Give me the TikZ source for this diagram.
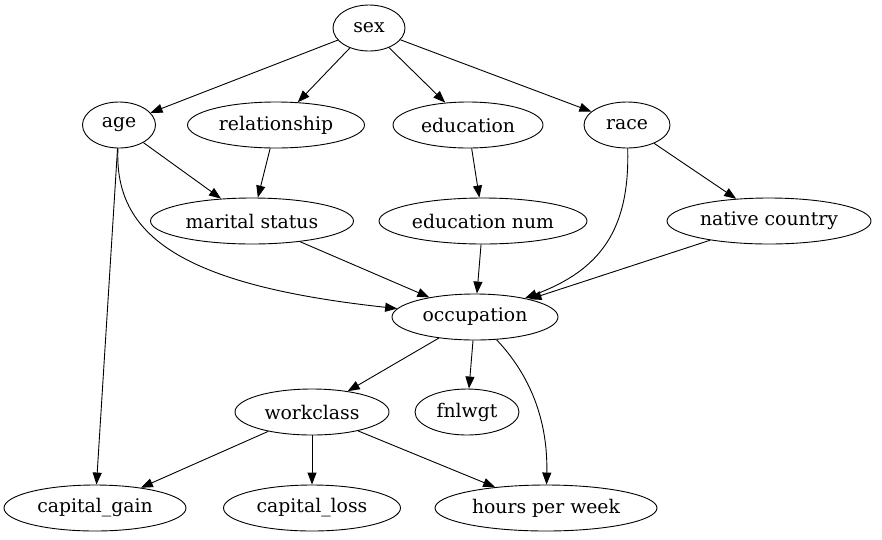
\documentclass[tikz,border=0pt]{standalone}
\usepackage{fontspec}
\setmainfont{DejaVu Serif}
\usetikzlibrary{shapes.geometric}
\usetikzlibrary{arrows.meta}
\pgfdeclarelayer{edgelayer}
\pgfdeclarelayer{nodelayer}
\pgfsetlayers{edgelayer,nodelayer,main}
\tikzstyle{var}=[ellipse,draw=black,fill=white,line width=0.9pt,inner sep=0pt,minimum height=46pt,font=\fontsize{18.8}{22}\selectfont]
\tikzstyle{edge}=[-{Triangle[length=12pt,width=9pt]},draw=black,line width=0.9pt]

\begin{document}
\begin{tikzpicture}[x=1pt,y=-1pt]
	\useasboundingbox (0,0) rectangle (882,539);
	\begin{pgfonlayer}{nodelayer}
		\node [style=var,minimum width=72pt] (sex) at (369,28) {sex};
		\node [style=var,minimum width=73pt] (age) at (119,125) {age};
		\node [style=var,minimum width=177pt] (relationship) at (276,125) {relationship};
		\node [style=var,minimum width=150pt] (education) at (468,125) {education};
		\node [style=var,minimum width=86pt] (race) at (627,125) {race};
		\node [style=var,minimum width=203pt] (marital) at (252,221) {marital status};
		\node [style=var,minimum width=208pt] (edunum) at (483,221) {education num};
		\node [style=var,minimum width=204pt] (native) at (769,221) {native country};
		\node [style=var,minimum width=166pt] (occupation) at (475,317) {occupation};
		\node [style=var,minimum width=154pt] (workclass) at (312,412) {workclass};
		\node [style=var,minimum width=104pt] (fnlwgt) at (467,412) {fnlwgt};
		\node [style=var,minimum width=182pt] (capgain) at (95,508) {capital\_gain};
		\node [style=var,minimum width=177pt] (caploss) at (312,508) {capital\_loss};
		\node [style=var,minimum width=222pt] (hours) at (546,508) {hours per week};
	\end{pgfonlayer}
	\begin{pgfonlayer}{edgelayer}
		\draw [style=edge] (sex) to (age);
		\draw [style=edge] (sex) to (relationship);
		\draw [style=edge] (sex) to (education);
		\draw [style=edge] (sex) to (race);
		\draw [style=edge] (age) to (marital);
		\draw [style=edge] (age) .. controls (114,235) and (180,285) .. (occupation);
		\draw [style=edge] (age) to (capgain);
		\draw [style=edge] (relationship) to (marital);
		\draw [style=edge] (education) to (edunum);
		\draw [style=edge] (race) .. controls (630,230) and (600,270) .. (occupation);
		\draw [style=edge] (race) to (native);
		\draw [style=edge] (marital) to (occupation);
		\draw [style=edge] (edunum) to (occupation);
		\draw [style=edge] (native) to (occupation);
		\draw [style=edge] (occupation) to (workclass);
		\draw [style=edge] (occupation) to (fnlwgt);
		\draw [style=edge] (occupation) .. controls (530,375) and (548,420) .. (hours);
		\draw [style=edge] (workclass) to (capgain);
		\draw [style=edge] (workclass) to (caploss);
		\draw [style=edge] (workclass) to (hours);
	\end{pgfonlayer}
\end{tikzpicture}
\end{document}
